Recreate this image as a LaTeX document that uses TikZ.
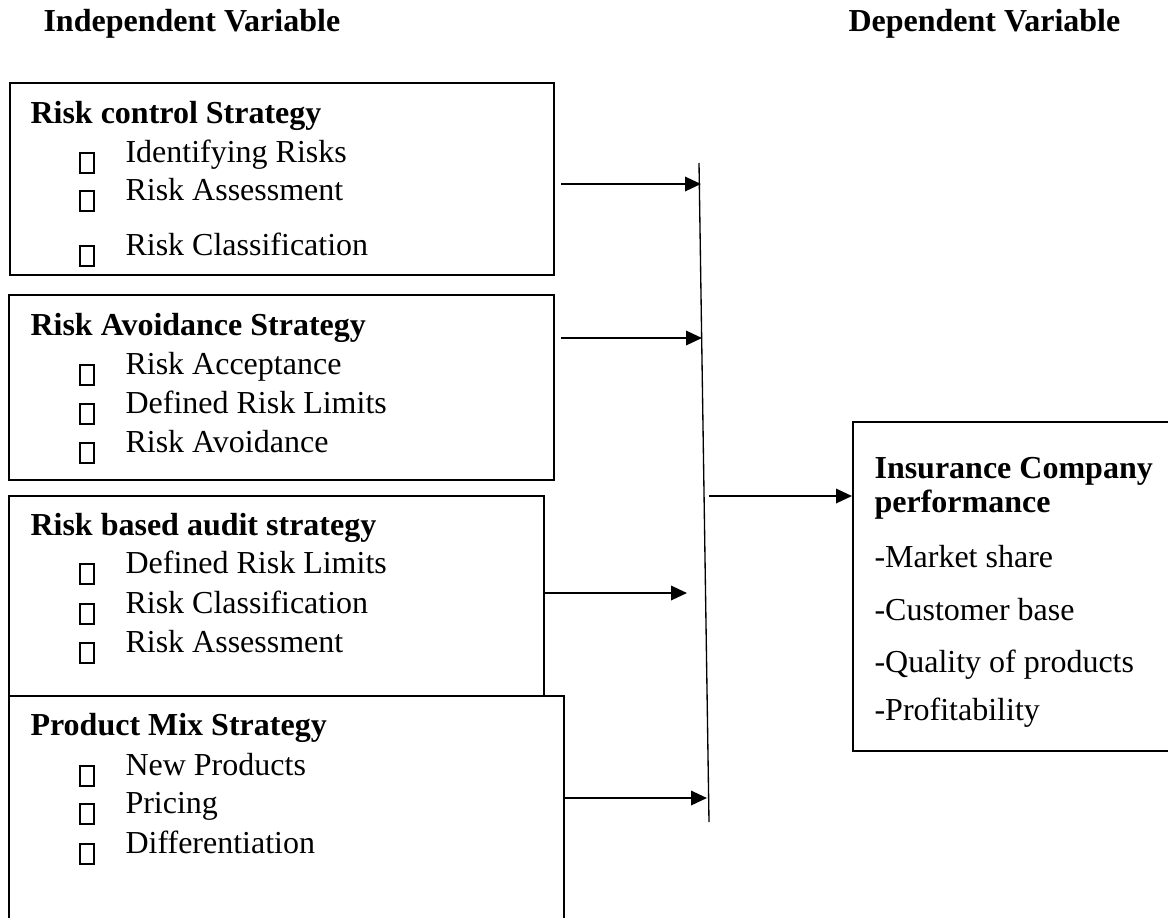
\documentclass[tikz,border=0pt,12pt]{standalone}
\usepackage{fontspec}
\setmainfont{Liberation Serif}
\usetikzlibrary{arrows.meta}

\begin{document}
\begin{tikzpicture}[
        x=0.375pt, y=-0.375pt,
        box/.style={draw, line width=0.8pt, inner sep=0pt, anchor=north west},
        head/.style={font=\bfseries, inner sep=0pt, anchor=base west},
        item/.style={inner sep=0pt, anchor=base west},
        tofu/.style={draw, line width=0.6pt},
        arr/.style={line width=0.8pt, -{Triangle[length=6pt,width=5.4pt]}}
    ]

        \useasboundingbox (0,0) rectangle (1168,917);

        % Encabezados
        \node[head] (indep) at (43,32) {Independent Variable};
        \node[head] (dep) at (848,32) {Dependent Variable};

        % =====================================================
        % Cajas
        % =====================================================

        \node[box, minimum width=544*0.375pt, minimum height=192*0.375pt] (box1) at (9,82) {};
        \node[box, minimum width=545*0.375pt, minimum height=185*0.375pt] (box2) at (8,294) {};
        \node[box, minimum width=535*0.375pt, minimum height=200*0.375pt] (box3) at (8,495) {};
        \node[box, minimum width=555*0.375pt, minimum height=230*0.375pt] (box4) at (8,695) {};
        \node[box, minimum width=323*0.375pt, minimum height=329*0.375pt] (perf) at (852,421) {};

        % Risk control
        \node[head] (t1) at (30,123) {Risk control Strategy};
        \foreach \txt/\yb [count=\i] in {Identifying Risks/162, Risk Assessment/200, Risk Classification/255} {
            \draw[tofu] (80,\yb-9) rectangle (94,\yb+11);
            \node[item] (rc\i) at (125,\yb) {\txt};
        }

        % Risk avoidance
        \node[head] (t2) at (30,335) {Risk Avoidance Strategy};
        \foreach \txt/\yb [count=\i] in {Risk Acceptance/374, Defined Risk Limits/413, Risk Avoidance/452} {
            \draw[tofu] (80,\yb-9) rectangle (94,\yb+11);
            \node[item] (ra\i) at (125,\yb) {\txt};
        }

        % Risk based audit
        \node[head] (t3) at (30,535) {Risk based audit strategy};
        \foreach \txt/\yb [count=\i] in {Defined Risk Limits/573, Risk Classification/613, Risk Assessment/652} {
            \draw[tofu] (80,\yb-9) rectangle (94,\yb+11);
            \node[item] (rb\i) at (125,\yb) {\txt};
        }

        % Product mix
        \node[head] (t4) at (30,735) {Product Mix Strategy};
        \foreach \txt/\yb [count=\i] in {New Products/775, Pricing/813, Differentiation/853} {
            \draw[tofu] (80,\yb-9) rectangle (94,\yb+11);
            \node[item] (pm\i) at (125,\yb) {\txt};
        }

        % Desempeño
        \node[head] (t5) at (874,478) {Insurance Company};
        \node[head] (t6) at (874,512) {performance};
        \foreach \txt/\yb [count=\i] in {-Market share/567, -Customer base/620, -Quality of products/672, -Profitability/720} {
            \node[item] (ic\i) at (874,\yb) {\txt};
        }

        % =====================================================
        % Conectores
        % =====================================================

        \coordinate (bustop) at (699,163);
        \coordinate (busbot) at (709,822);
        \draw[line width=0.5pt] (bustop) -- (busbot);

        \coordinate (e1) at (701,184);
        \coordinate (e2) at (702,338);
        \coordinate (e3) at (687,593);
        \coordinate (e4) at (707,798);
        \coordinate (s5) at (709,496);

        \draw[arr, shorten <=2.25pt] (box1.east |- e1) -- (e1);
        \draw[arr, shorten <=2.25pt] (box2.east |- e2) -- (e2);
        \draw[arr] (box3.east |- e3) -- (e3);
        \draw[arr] (box4.east |- e4) -- (e4);
        \draw[arr] (s5) -- (s5 -| perf.west);

\end{tikzpicture}
\end{document}
